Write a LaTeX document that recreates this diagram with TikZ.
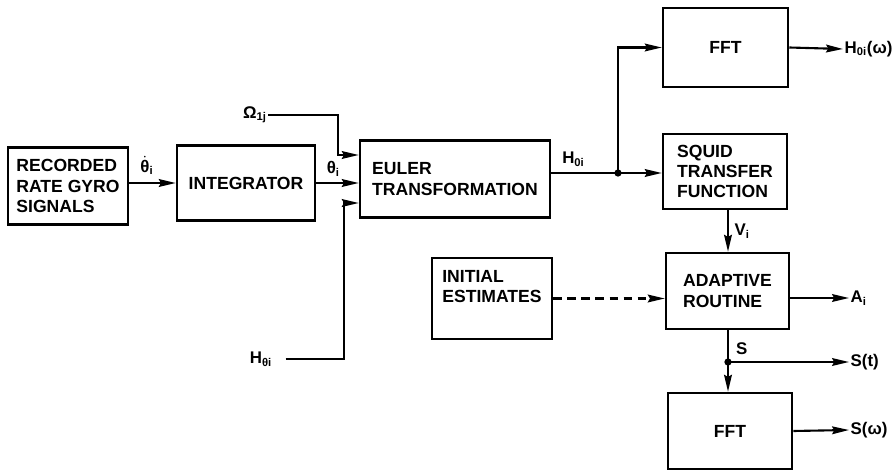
\documentclass[tikz,border=0pt]{standalone}
\usepackage{fontspec}
\setmainfont{Liberation Sans}
\usepackage{tikz}
\usetikzlibrary{arrows.meta, positioning, calc}

\begin{document}
\begin{tikzpicture}[
    x=0.025cm, y=-0.025cm,
    blk/.style={
      rectangle, draw=black, line width=1.8pt,
      align=left, inner sep=2pt,
      font=\bfseries\fontsize{12.5}{14.5}\selectfont
    },
    lbl/.style={
      inner sep=1pt,
      font=\bfseries\fontsize{12}{14}\selectfont
    },
    arr/.style={-{Stealth[length=12pt, width=5.5pt, inset=1.5pt]}, line width=1.5pt},
    dasharr/.style={arr, dash pattern=on 6pt off 4pt}
  ]

    \useasboundingbox (0,0) rectangle (896,472);

    % main row
    \node[blk, minimum width=120*0.025cm, minimum height=77*0.025cm] (rec) at (68,186)
      {RECORDED\\RATE GYRO\\SIGNALS};
    \node[blk, minimum width=138*0.025cm, minimum height=75*0.025cm] (integ) at (246,183)
      {INTEGRATOR};
    \node[blk, minimum width=190*0.025cm, minimum height=77*0.025cm] (euler) at (455,179)
      {EULER\\TRANSFORMATION};

    % right column
    \node[blk, minimum width=125*0.025cm, minimum height=79*0.025cm] (fft1) at (725.5,47.5)
      {FFT};
    \node[blk, minimum width=124*0.025cm, minimum height=75*0.025cm] (squid) at (725,171.5)
      {SQUID\\TRANSFER\\FUNCTION};
    \node[blk, minimum width=123*0.025cm, minimum height=76*0.025cm] (adapt) at (727.5,291)
      {ADAPTIVE\\ROUTINE};
    \node[blk, minimum width=124*0.025cm, minimum height=76*0.025cm] (fft2) at (730,431)
      {FFT};
    \node[blk, minimum width=120*0.025cm, minimum height=81*0.025cm, text depth=17pt] (init) at (492,298.5)
      {INITIAL\\ESTIMATES};

    % inputs and outputs
    \node[lbl] (omega) at (255,115) {Ω\textsubscript{1j}};
    \node[lbl] (hth) at (261,359) {H\textsubscript{θi}};
    \node[lbl, anchor=west] (hout) at (843,49) {H\textsubscript{0i}(ω)};
    \node[lbl, anchor=west] (aout) at (849,298) {A\textsubscript{i}};
    \node[lbl, anchor=west] (sout) at (849,362) {S(t)};
    \node[lbl, anchor=west] (swout) at (849,430) {S(ω)};

    \coordinate (hj) at (618,173);
    \coordinate (sj) at (728,362);

    \draw[arr] (rec.east |- integ) -- node[lbl, above, xshift=-4pt, yshift=4pt] {$\dot{\mbox{θ}}$\textsubscript{i}} (integ.west);
    \draw[arr] (integ.east) -- node[lbl, above, xshift=-3pt, yshift=3pt] {θ\textsubscript{i}} (integ.east -| euler.west);
    \draw[arr] (omega.east) -| ($(euler.west)+(-21,-24)$) -- ($(euler.west)+(0,-24)$);
    \draw[arr] ($(hth.east)+(12,0)$) -| ($(euler.west)+(-15,24)$) -- ($(euler.west)+(0,24)$);

    \draw[line width=1.5pt] (euler.east |- hj) -- node[lbl, above, xshift=-8pt, yshift=3pt] {H\textsubscript{0i}} (hj);
    \draw[arr] (hj) -- (hj -| squid.west);
    \draw[arr] (hj) |- (fft1.west);
    \fill (hj) circle (2.6pt);

    \draw[arr] (fft1.east) -- (hout.west);
    \draw[arr] (squid.south -| sj) -- node[lbl, right, xshift=3pt] {V\textsubscript{i}} (adapt.north -| sj);
    \draw[dasharr] (init.east) -- (init.east -| adapt.west);
    \draw[arr] (aout.west -| adapt.east) -- (aout.west);

    \draw[line width=1.5pt] (adapt.south -| sj) -- node[lbl, right, xshift=4pt, yshift=-2pt] {S} (sj);
    \draw[arr] (sj) -- (fft2.north -| sj);
    \draw[arr] (sj) -- (sout.west);
    \fill (sj) circle (2.6pt);
    \draw[arr] (fft2.east) -- (swout.west);
  \end{tikzpicture}
\end{document}
